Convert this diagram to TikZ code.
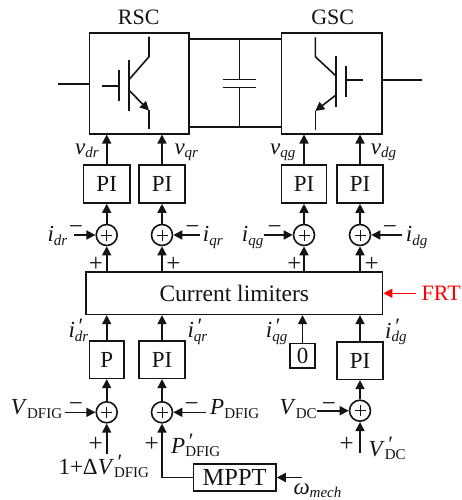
\documentclass[tikz,border=0pt]{standalone}
\usepackage{fontspec}
\setmainfont{Liberation Serif}
\usetikzlibrary{arrows.meta}
\definecolor{ink}{RGB}{20,20,20}
\newcommand\sbx[2]{#1\raisebox{-3.5pt}{\fontsize{15}{15}\selectfont #2}}
\newcommand\sbp[3]{#1\rlap{\raisebox{4.5pt}{\fontsize{22}{22}\selectfont\,#2}}\raisebox{-3.5pt}{\fontsize{15}{15}\selectfont #3}}
\tikzset{
  every node/.style={text=ink,font=\fontsize{23}{25}\selectfont},
  blk/.style={draw=ink,line width=1.6pt,inner sep=0pt},
  sumc/.style={draw=ink,line width=1.6pt,circle,minimum size=21pt,inner sep=0pt,
    path picture={\draw[ink,line width=.7pt]
      ([xshift=-5.5pt]path picture bounding box.center)--([xshift=5.5pt]path picture bounding box.center)
      ([yshift=-5.5pt]path picture bounding box.center)--([yshift=5.5pt]path picture bounding box.center);}},
  lab/.style={anchor=base west,inner sep=0pt},
  sgn/.style={inner sep=0pt,font=\fontsize{25}{25}\selectfont},
  arr/.style={draw=ink,line width=1.6pt,-{Triangle[length=9pt,width=9pt]}},
  wire/.style={draw=ink,line width=1.6pt},
}
\begin{document}
\begin{tikzpicture}[x=1pt,y=-1pt]
\useasboundingbox (0,0) rectangle (462,500);
% converters
\node[blk,minimum width=99.7pt,minimum height=100.4pt] (rsc) at (139.2,83.5) {};
\node[blk,minimum width=100.4pt,minimum height=100.4pt] (gsc) at (331.5,83.5) {};
\node[lab,anchor=base,font=\fontsize{22}{24}\selectfont] (rsct) at (138.7,24.3) {RSC};
\node[lab,anchor=base,font=\fontsize{22}{24}\selectfont] (gsct) at (332.7,24.3) {GSC};
% grid leads
\coordinate (ll) at (58.3,84.3);
\coordinate (rl) at (421.7,80.3);
\draw[wire] (ll) -- (ll -| rsc.west);
\draw[wire] (rl -| gsc.east) -- (rl);
% DC link
\coordinate (dct) at (239.3,39.3);
\coordinate (dcb) at (239.3,126.7);
\coordinate (capa) at (239.3,79.7);
\coordinate (capb) at (239.3,87.7);
\draw[wire] (dct -| rsc.east) -- (dct -| gsc.west);
\draw[wire] (dcb -| rsc.east) -- (dcb -| gsc.west);
\draw[wire] (dct) -- (capa) (capb) -- (dcb);
\draw[wire] (222.7,79.7) -- (256,79.7) (222.7,87.7) -- (256,87.7);
% RSC IGBT
\draw[wire] (102.3,86.3) -- (118.7,86.3) (118.7,70) -- (118.7,101.3) (128.7,60) -- (128.7,111);
\draw[wire] (128.7,80) -- (149,56.7) -- (149,36.7);
\draw[arr] (128.7,90) -- (149,110.5);
\draw[wire] (149,110) -- (149,128.7);
% GSC IGBT
\draw[wire] (362.7,80) -- (346,80) (346,65.7) -- (346,97) (336,56) -- (336,106.7);
\draw[wire] (336,76) -- (315.3,56.7) -- (315.3,37.3);
\draw[arr] (336,95) -- (315.3,111);
\draw[wire] (315.3,111) -- (315.3,130);
% top PI row
\node[blk,minimum width=46.3pt,minimum height=38pt] (pa) at (106.7,184) {PI};
\node[blk,minimum width=46.3pt,minimum height=38pt] (pb) at (162,184) {PI};
\node[blk,minimum width=45.3pt,minimum height=38pt] (pc) at (304,184) {PI};
\node[blk,minimum width=46pt,minimum height=38pt] (pd) at (360,184) {PI};
\draw[arr] (pa.north) -- (pa.north |- rsc.south);
\draw[arr] (pb.north) -- (pb.north |- rsc.south);
\draw[arr] (pc.north) -- (pc.north |- gsc.south);
\draw[arr] (pd.north) -- (pd.north |- gsc.south);
\node[lab] (vdr) at (75,154) {\sbx{\textit{v}}{\textit{dr}}};
\node[lab] (vqr) at (174.3,154) {\sbx{\textit{v}}{\textit{qr}}};
\node[lab] (vqg) at (270,154) {\sbx{\textit{v}}{\textit{qg}}};
\node[lab] (vdg) at (370.7,154) {\sbx{\textit{v}}{\textit{dg}}};
% top sums
\node[sumc] (sa) at (106.7,235) {};
\node[sumc] (sb) at (162,235) {};
\node[sumc] (sc) at (304,235) {};
\node[sumc] (sd) at (360,235) {};
\draw[arr] (sa.north) -- (pa.south);
\draw[arr] (sb.north) -- (pb.south);
\draw[arr] (sc.north) -- (pc.south);
\draw[arr] (sd.north) -- (pd.south);
\coordinate (ia) at (74.3,235);
\coordinate (ib) at (200,235);
\coordinate (ic) at (264.3,235);
\coordinate (id) at (401.7,235);
\draw[arr] (ia) -- (sa.west);
\draw[arr] (ib) -- (sb.east);
\draw[arr] (ic) -- (sc.west);
\draw[arr] (id) -- (sd.east);
\node[lab] (idr) at (47.3,241.7) {\sbx{\textit{i}}{\textit{dr}}};
\node[lab] (iqr) at (202.7,241.7) {\sbx{\textit{i}}{\textit{qr}}};
\node[lab] (iqg) at (241.7,241.7) {\sbx{\textit{i}}{\textit{qg}}};
\node[lab] (idg) at (405.7,241.7) {\sbx{\textit{i}}{\textit{dg}}};
\node[sgn] (ma) at (76,230) {−};
\node[sgn] (mb) at (192.3,230) {−};
\node[sgn] (mc) at (274.7,230) {−};
\node[sgn] (md) at (390,230) {−};
\node[sgn] (pla) at (96,264.5) {+};
\node[sgn] (plb) at (173.3,264.5) {+};
\node[sgn] (plc) at (294.3,264.5) {+};
\node[sgn] (pld) at (371.7,264.5) {+};
% limiter
\node[blk,minimum width=296.7pt,minimum height=42.3pt,font=\fontsize{23.5}{25}\selectfont] (cl) at (234.3,293.2) {Current limiters};
\draw[arr] (sa |- cl.north) -- (sa.south);
\draw[arr] (sb |- cl.north) -- (sb.south);
\draw[arr] (sc |- cl.north) -- (sc.south);
\draw[arr] (sd |- cl.north) -- (sd.south);
\coordinate (fr) at (416,293.3);
\draw[red,line width=1.6pt,-{Triangle[length=9pt,width=9pt]}] (fr) -- (cl.east |- fr);
\node[lab,text=red,font=\fontsize{22}{24}\selectfont] (frt) at (421.5,300.5) {FRT};
% lower blocks
\node[blk,minimum width=34.7pt,minimum height=37.6pt] (bp) at (106.7,359.5) {P};
\node[blk,minimum width=46pt,minimum height=37.6pt] (bi) at (162,359.5) {PI};
\node[blk,minimum width=25pt,minimum height=24.4pt] (bz) at (302.5,355.5) {0};
\node[blk,minimum width=46pt,minimum height=37.6pt] (bd) at (360,360.5) {PI};
\draw[arr] (bp.north) -- (bp.north |- cl.south);
\draw[arr] (bi.north) -- (bi.north |- cl.south);
\draw[arr] (bz.north) -- (bz.north |- cl.south);
\draw[arr] (bd.north) -- (bd.north |- cl.south);
\node[lab] (idrp) at (68.3,337.7) {\sbp{\textit{i}}{′}{\textit{dr}}};
\node[lab] (iqrp) at (187.3,337.7) {\sbp{\textit{i}}{′}{\textit{qr}}};
\node[lab] (iqgp) at (265.7,337.7) {\sbp{\textit{i}}{′}{\textit{qg}}};
\node[lab] (idgp) at (385,338.3) {\sbp{\textit{i}}{′}{\textit{dg}}};
% lower sums
\node[sumc] (se) at (106.7,412.3) {};
\node[sumc] (sf) at (162,412.3) {};
\node[sumc] (sg) at (360,410.7) {};
\draw[arr] (se.north) -- (bp.south);
\draw[arr] (sf.north) -- (bi.south);
\draw[arr] (sg.north) -- (bd.south);
\coordinate (ve) at (65,412.3);
\coordinate (vf) at (206,412.3);
\coordinate (vg) at (316.7,410.7);
\draw[arr] (ve) -- (se.west);
\draw[arr] (vf) -- (sf.east);
\draw[arr] (vg) -- (sg.west);
\coordinate (ue) at (106.7,454);
\coordinate (ug) at (360,452.7);
\draw[arr] (ue) -- (se.south);
\draw[arr] (ug) -- (sg.south);
\node[lab] (vdfig) at (10.7,414.7) {\sbx{\textit{V}}{DFIG}};
\node[lab] (pdfig) at (210,414.7) {\sbx{\textit{P}}{DFIG}};
\node[lab] (vdc) at (279.3,414.7) {\sbx{\textit{V}}{DC}};
\node[sgn] (me) at (76,407.3) {−};
\node[sgn] (mf) at (191.7,407.3) {−};
\node[sgn] (mg) at (329,407.3) {−};
\node[sgn] (ple) at (95.7,444.5) {+};
\node[sgn] (plf) at (151.7,444.5) {+};
\node[sgn] (plg) at (346.7,444.5) {+};
\node[lab] (vref) at (58.3,474) {1+Δ\sbp{\textit{V}}{′}{DFIG}};
\node[lab] (pref) at (171,453) {\sbp{\textit{P}}{′}{DFIG}};
\node[lab] (vdcr) at (368.3,456) {\sbp{\textit{V}}{′}{DC}};
% MPPT
\node[blk,minimum width=82.7pt,minimum height=27pt,font=\fontsize{24.5}{26}\selectfont] (mppt) at (234.7,477.5) {MPPT};
\coordinate (om) at (301.7,477.5);
\draw[arr] (om) -- (mppt.east);
\draw[arr] (mppt.west) -| (sf.south);
\node[lab] (omt) at (293.3,494) {\sbx{\textit{ω}}{\textit{mech}}};
\end{tikzpicture}
\end{document}
